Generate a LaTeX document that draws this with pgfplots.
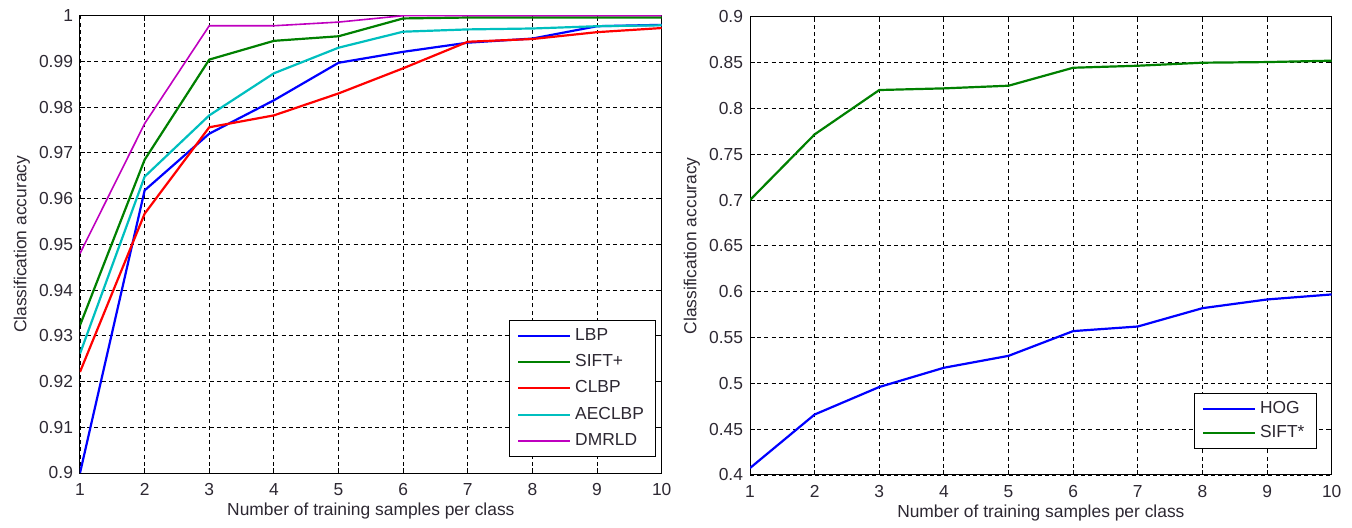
\documentclass[border=0pt]{standalone}
\usepackage{fontspec}
\setmainfont{Liberation Sans}
\usepackage{pgfplots}
\pgfplotsset{compat=1.18}
\definecolor{mblue}{RGB}{0,0,255}
\definecolor{mgreen}{RGB}{0,128,0}
\definecolor{mred}{RGB}{255,0,0}
\definecolor{mcyan}{RGB}{0,191,191}
\definecolor{mmag}{RGB}{191,0,191}
\definecolor{txt}{RGB}{45,40,50}
\pgfplotsset{
  mystyle/.style={
    scale only axis,
    width=290.85pt,
    xmin=1, xmax=10,
    xtick={1,2,3,4,5,6,7,8,9,10},
    grid=major,
    major grid style={black, line width=0.45pt, dash pattern=on 2pt off 1.6pt},
    axis line style={black, line width=0.5pt},
    tick style={black, line width=0.5pt},
    major tick length=2.5pt,
    tick align=inside,
    font=\fontsize{8.7}{10}\selectfont,
    tick label style={font=\fontsize{8.7}{10}\selectfont, text=txt},
    label style={font=\fontsize{8.7}{10}\selectfont, text=txt},
    /pgf/number format/assume math mode=true,
    xticklabel style={yshift=-1.5pt},
    xlabel={Number of training samples per class},
    ylabel={Classification accuracy},
    xlabel style={at={(axis description cs:0.5,0)}, anchor=center, yshift=-19pt},
    ylabel style={at={(axis description cs:-0.1,0.5)}, anchor=center, rotate=0},
    legend cell align=left,
    legend style={draw=black, line width=0.5pt, font=\fontsize{8.7}{10}\selectfont, text=txt,
      inner xsep=3.8pt, inner ysep=2pt},
    legend image code/.code={\draw[#1, line width=1pt] (0pt,0pt) -- (26pt,0pt);},
  }
}
\begin{document}
\begin{tikzpicture}
\path (0,0) rectangle (676pt,261.5pt);
\begin{axis}[mystyle,
  at={(40pt,25pt)}, anchor=south west,
  height=228.65pt,
  ymin=0.9, ymax=1,
  ytick={0.9,0.91,0.92,0.93,0.94,0.95,0.96,0.97,0.98,0.99,1},
  yticklabels={0.9,0.91,0.92,0.93,0.94,0.95,0.96,0.97,0.98,0.99,1},
  legend style={at={(0.9902,0.035)}, anchor=south east, row sep=1.6pt},
]
\addplot[mblue, line width=1.1pt] coordinates {(1,0.9000) (2,0.9618) (3,0.9742) (4,0.9815) (5,0.9897) (6,0.9921) (7,0.9941) (8,0.9950) (9,0.9977) (10,0.9980)};
\addlegendentry{LBP}
\addplot[mgreen, line width=1.1pt] coordinates {(1,0.9323) (2,0.9685) (3,0.9904) (4,0.9945) (5,0.9955) (6,0.9994) (7,0.9996) (8,0.9996) (9,0.9996) (10,0.9996)};
\addlegendentry{SIFT+}
\addplot[mred, line width=1.1pt] coordinates {(1,0.9221) (2,0.9567) (3,0.9756) (4,0.9782) (5,0.9830) (6,0.9885) (7,0.9943) (8,0.9949) (9,0.9964) (10,0.9973)};
\addlegendentry{CLBP}
\addplot[mcyan, line width=1.1pt] coordinates {(1,0.9261) (2,0.9648) (3,0.9782) (4,0.9874) (5,0.9930) (6,0.9965) (7,0.9970) (8,0.9972) (9,0.9977) (10,0.9979)};
\addlegendentry{AECLBP}
\addplot[mmag, line width=0.8pt] coordinates {(1,0.9480) (2,0.9764) (3,0.9978) (4,0.9978) (5,0.9986) (6,1.0) (7,1.0) (8,1.0) (9,1.0) (10,1.0)};
\addlegendentry{DMRLD}
\end{axis}
\begin{axis}[mystyle,
  at={(375pt,24pt)}, anchor=south west,
  height=229.15pt,
  ymin=0.4, ymax=0.9,
  ytick={0.4,0.45,0.5,0.55,0.6,0.65,0.7,0.75,0.8,0.85,0.9},
  yticklabels={0.4,0.45,0.5,0.55,0.6,0.65,0.7,0.75,0.8,0.85,0.9},
  legend style={at={(0.974,0.0568)}, anchor=south east, row sep=0.5pt},
]
\addplot[mblue, line width=1.1pt] coordinates {(1,0.4076) (2,0.4660) (3,0.4960) (4,0.5170) (5,0.5300) (6,0.5570) (7,0.5620) (8,0.5820) (9,0.5915) (10,0.5970)};
\addlegendentry{HOG}
\addplot[mgreen, line width=1.1pt] coordinates {(1,0.7000) (2,0.7716) (3,0.8200) (4,0.8218) (5,0.8247) (6,0.8443) (7,0.8465) (8,0.8498) (9,0.8505) (10,0.8520)};
\addlegendentry{SIFT*}
\end{axis}
\end{tikzpicture}
\end{document}
